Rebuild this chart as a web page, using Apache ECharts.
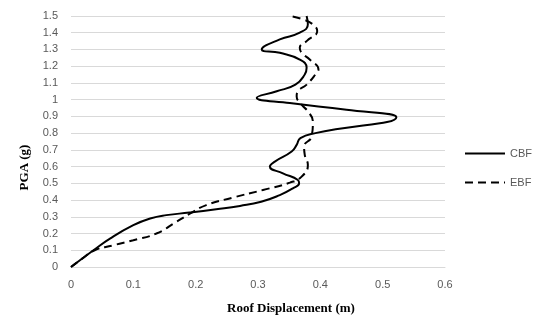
<!DOCTYPE html>
<html><head><meta charset="utf-8">
<script src="https://cdn.jsdelivr.net/npm/echarts@6/dist/echarts.min.js"></script>
<style>html,body{margin:0;padding:0;background:#fff}#c{width:547px;height:324px}</style>
</head><body><div id="c"></div>
<script>
// PGA levels (g) and roof displacement (m)
var cbfPGA  = [0, 0.1, 0.17, 0.25, 0.29, 0.31, 0.325, 0.345, 0.365, 0.39, 0.43, 0.47, 0.50, 0.52, 0.56, 0.60, 0.63, 0.69, 0.73, 0.77, 0.80, 0.895, 0.94, 0.98, 1.012, 1.05, 1.09, 1.15, 1.19, 1.24, 1.28, 1.30, 1.36, 1.40, 1.45, 1.5];
var cbfDisp = [0, 0.036, 0.0625, 0.10, 0.127, 0.153, 0.19, 0.233, 0.271, 0.305, 0.335, 0.356, 0.366, 0.364, 0.340, 0.319, 0.327, 0.354, 0.362, 0.368, 0.392, 0.522, 0.442, 0.351, 0.298, 0.330, 0.360, 0.375, 0.378, 0.367, 0.335, 0.306, 0.335, 0.367, 0.38, 0.378];
var ebfPGA  = [0, 0.05, 0.1, 0.13, 0.16, 0.20, 0.27, 0.317, 0.37, 0.415, 0.46, 0.504, 0.54, 0.61, 0.67, 0.72, 0.78, 0.87, 0.93, 0.97, 1.02, 1.05, 1.09, 1.16, 1.18, 1.24, 1.28, 1.31, 1.35, 1.41, 1.45, 1.48, 1.5];
var ebfDisp = [0, 0.018, 0.038, 0.068, 0.10, 0.137, 0.169, 0.19, 0.217, 0.26, 0.308, 0.351, 0.37, 0.38, 0.375, 0.374, 0.386, 0.388, 0.38, 0.37, 0.362, 0.364, 0.378, 0.394, 0.397, 0.383, 0.37, 0.367, 0.378, 0.395, 0.388, 0.372, 0.351];
var xTicks = [0, 0.1, 0.2, 0.3, 0.4, 0.5, 0.6];
var yTicks = [0, 0.1, 0.2, 0.3, 0.4, 0.5, 0.6, 0.7, 0.8, 0.9, 1, 1.1, 1.2, 1.3, 1.4, 1.5];

function pairs(xs, ys){ return xs.map(function(x,i){ return [x, ys[i]]; }); }

var chart = echarts.init(document.getElementById('c'), null, {renderer:'canvas'});
var labelStyle = {color:'#595959', fontSize:11, fontFamily:'Liberation Sans, Arial, sans-serif'};
chart.setOption({
  animation:false,
  backgroundColor:'#ffffff',
  grid:{left:71, right:102, top:16, bottom:57, containLabel:false},
  legend:{
    orient:'vertical', right:10, top:143, itemGap:18, itemWidth:40, itemHeight:10,
    itemStyle:{opacity:0},
    textStyle:{color:'#595959', fontSize:11, fontFamily:'Liberation Sans, Arial, sans-serif'},
    data:['CBF','EBF']
  },
  xAxis:{
    type:'value', min:xTicks[0], max:xTicks[xTicks.length-1], interval:0.1,
    name:'Roof Displacement (m)', nameLocation:'middle', nameGap:35,
    nameTextStyle:{fontFamily:'Liberation Serif, Times New Roman, serif', fontWeight:'bold', fontSize:13, color:'#000', padding:[0,0,0,66]},
    axisLine:{show:true, lineStyle:{color:'#d9d9d9'}},
    axisTick:{show:false},
    splitLine:{show:false},
    axisLabel:Object.assign({margin:12, formatter:function(v){return String(+v.toFixed(1));}}, labelStyle)
  },
  yAxis:{
    type:'value', min:yTicks[0], max:yTicks[yTicks.length-1], interval:0.1,
    name:'PGA (g)', nameLocation:'middle', nameGap:40, nameRotate:90,
    nameTextStyle:{fontFamily:'Liberation Serif, Times New Roman, serif', fontWeight:'bold', fontSize:13, color:'#000', padding:[0,52,0,0]},
    axisLine:{show:false}, axisTick:{show:false},
    splitLine:{show:true, lineStyle:{color:'#d9d9d9', width:1}},
    axisLabel:Object.assign({margin:13, formatter:function(v){return String(+v.toFixed(1));}}, labelStyle)
  },
  series:[
    {name:'CBF', type:'line', data:pairs(cbfDisp, cbfPGA), smooth:0.5, symbol:'none',
     lineStyle:{color:'#000', width:2, type:'solid'}, itemStyle:{color:'#000'}},
    {name:'EBF', type:'line', data:pairs(ebfDisp, ebfPGA), smooth:0.5, symbol:'none',
     lineStyle:{color:'#000', width:2, type:[8,5]}, itemStyle:{color:'#000'}}
  ]
});
</script></body></html>
